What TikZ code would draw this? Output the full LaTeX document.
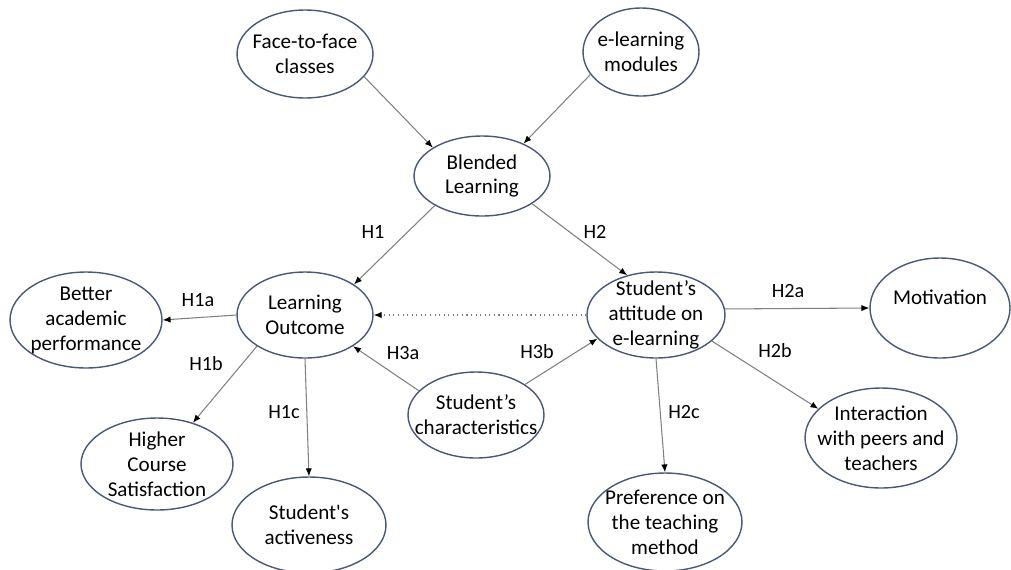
\documentclass[tikz,border=0pt]{standalone}
\usepackage{fontspec}
\setmainfont{Carlito}
\usetikzlibrary{shapes.geometric, arrows.meta}
\definecolor{rimblue}{HTML}{4A5878}
\definecolor{wiregray}{HTML}{808080}

\begin{document}
\begin{tikzpicture}[x=0.02cm, y=-0.02cm,
	concept/.style={shape=ellipse, draw=rimblue, line width=0.8pt, align=center, inner xsep=-12pt, inner ysep=-6pt, font=\fontsize{12}{14.2}\selectfont},
	wire/.style={draw=wiregray, line width=0.6pt, -{Latex[length=4.5pt, width=3.6pt, color=black]}},
	tag/.style={inner sep=0, font=\fontsize{11.5}{14}\selectfont}]
	\useasboundingbox (0, 0) rectangle (1011, 569);
	% Ellipses:
	\node[concept, minimum width=2.72cm, minimum height=1.76cm] (f2f) at (305, 54) {Face-to-face\\classes};
	\node[concept, minimum width=2.32cm, minimum height=1.76cm] (modules) at (641, 52) {e-learning\\modules};
	\node[concept, minimum width=2.72cm, minimum height=1.6cm] (blend) at (482, 176) {Blended\\Learning};
	\node[concept, minimum width=2.72cm, minimum height=1.72cm] (outcome) at (305, 315) {Learning\\Outcome};
	\node[concept, minimum width=3.04cm, minimum height=1.92cm] (better) at (86, 320) {Better\\academic\\performance};
	\node[concept, minimum width=3.04cm, minimum height=1.84cm] (higher) at (157, 464) {Higher\\Course\\Satisfaction};
	\node[concept, minimum width=3.08cm, minimum height=1.92cm] (active) at (309, 525) {Student\textquotesingle s\\activeness};
	\node[concept, minimum width=2.72cm, minimum height=1.72cm] (traits) at (476, 415) {Student’s\\characteristics};
	\node[concept, minimum width=2.76cm, minimum height=1.72cm] (attitude) at (656, 315) {Student’s\\attitude on\\e-learning};
	\node[concept, minimum width=2.8cm, minimum height=2cm] (motiv) at (940, 308) {\raisebox{12pt}{Motivation}};
	\node[concept, minimum width=3.04cm, minimum height=2cm] (interact) at (881, 438) {Interaction\\with peers and\\teachers};
	\node[concept, minimum width=3.08cm, minimum height=1.96cm] (prefer) at (665, 522) {Preference on\\the teaching\\method};
	% Arrows:
	\draw[wire] (f2f.-21) -- (blend.150);
	\draw[wire] (modules.204) -- (blend.38);
	\draw[wire] (blend.212) -- (outcome.32);
	\draw[wire] (blend.-29) -- (attitude.126);
	\draw[wire] (outcome.west) -- (better.east);
	\draw[wire] (outcome.213) -- (higher.49);
	\draw[wire] (outcome.south) -- (active.north);
	\draw[wire] (traits.157) -- (outcome.-33);
	\draw[wire] (traits.32) -- (attitude.202);
	\draw[wire, dotted] (attitude.west) -- (outcome.east);
	\draw[wire] (attitude.5) -- (motiv.west);
	\draw[wire] (attitude.-25) -- (interact.155);
	\draw[wire] (attitude.south) -- (prefer.north);
	% Hypothesis labels:
	\node[tag] (h1) at (373, 232) {H1};
	\node[tag] (h2) at (595, 232) {H2};
	\node[tag] (h1a) at (198, 300) {H1a};
	\node[tag] (h1b) at (206, 364) {H1b};
	\node[tag] (h1c) at (284, 412) {H1c};
	\node[tag] (h3a) at (403, 353) {H3a};
	\node[tag] (h3b) at (537, 352) {H3b};
	\node[tag] (h2a) at (788, 291) {H2a};
	\node[tag] (h2b) at (775, 351) {H2b};
	\node[tag] (h2c) at (684, 412) {H2c};
\end{tikzpicture}
\end{document}
